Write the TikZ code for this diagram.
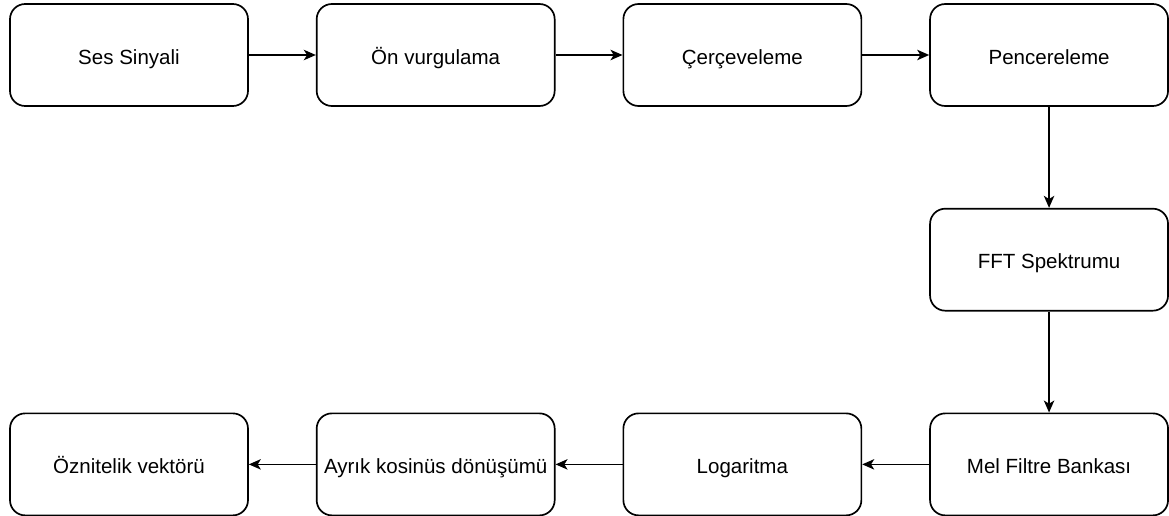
\documentclass[tikz,border=0pt]{standalone}
\usepackage{fontspec}
\setmainfont{Liberation Sans}
\usetikzlibrary{arrows.meta,positioning}

\begin{document}
\begin{tikzpicture}[node distance= 2.525cm and 1.675cm]
      \useasboundingbox (-3.225,1.375) rectangle (26.0,-11.525);
      \begin{scope}[every node/.style={rectangle,rounded corners=0.38cm,draw,line width=1.2pt,
          minimum width=5.95cm,minimum height=2.55cm,align=center,
          text height=16pt,text depth=2.8pt,
          font=\fontsize{14.6}{17}\selectfont}]
        \node (ses) {Ses Sinyali};
        \node (onv) [right= of ses] {Ön vurgulama};
        \node (cer) [right= of onv] {Çerçeveleme};
        \node (pen) [right= of cer] {Pencereleme};
        \node (fft) [below= of pen] {FFT Spektrumu};
        \node (mel) [below= of fft] {Mel Filtre Bankası};
        \node (log) [left= of mel] {Logaritma};
        \node (dct) [left= of log] {Ayrık kosinüs dönüşümü};
        \node (vek) [left= of dct] {Öznitelik vektörü};
      \end{scope}
      \begin{scope}
        [line width=1.2pt,
        every edge/.style={draw= black, line width=1.2pt,
          -{Stealth[length=0.3cm,width=0.26cm,inset=0.08cm]}}]
        \path (ses) edge (onv);
        \path (onv) edge (cer);
        \path (cer) edge (pen);
        \path (pen) edge (fft);
        \path (fft) edge (mel);
        \path (mel) edge (log);
        \path (log) edge (dct);
        \path (dct) edge (vek);
      \end{scope}
    \end{tikzpicture}
\end{document}
